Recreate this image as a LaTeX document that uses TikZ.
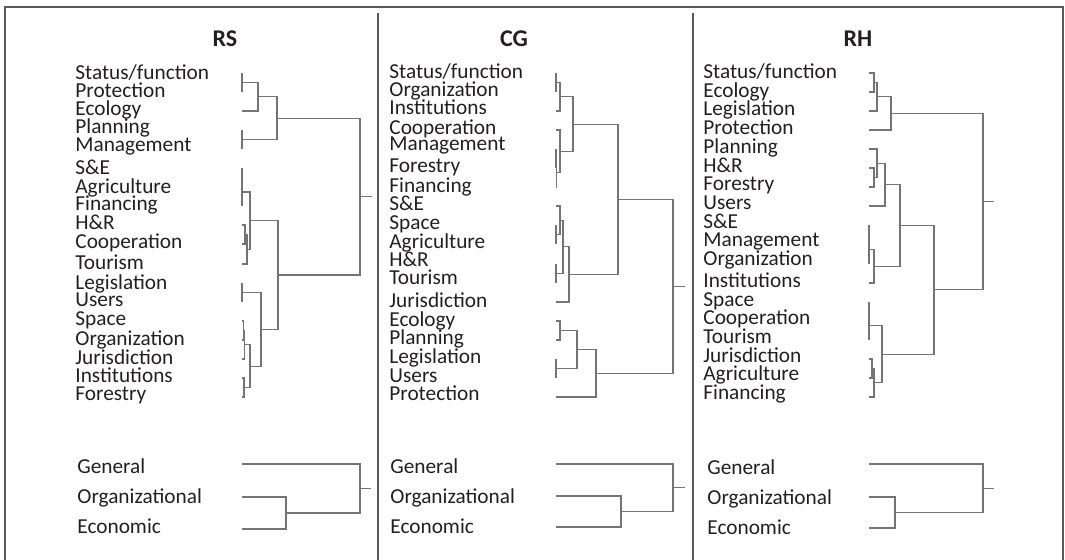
\documentclass[tikz,border=0pt]{standalone}
\usepackage{fontspec}
\setmainfont{Carlito}

\definecolor{ink}{HTML}{231F20}
\definecolor{linegray}{HTML}{747474}
\definecolor{framegray}{HTML}{5A5A5A}

\begin{document}
\begin{tikzpicture}[
    x=0.5pt, y=-0.5pt,
    heading/.style={font=\bfseries\fontsize{12}{14}\selectfont, text=ink, inner sep=0pt, text height=1.4ex, text depth=0pt},
    item/.style={anchor=west, font=\fontsize{10.65}{12}\selectfont, text=ink, inner sep=0pt, text height=1.4ex, text depth=0pt},
    link/.style={draw=linegray, line width=0.55pt},
    frame/.style={draw=framegray, line width=0.8pt}
]
\useasboundingbox (0,0) rectangle (1065,560);

% Frame
\draw[frame] (5,560) |- (1063,7) -- (1063,560);
\draw[frame] (378,13) -- (378,560);
\draw[frame] (693,13) -- (693,560);

% Headings
\node[heading] (rs_title) at (225,39.5) {RS};
\node[heading] (cg_title) at (514,39.5) {CG};
\node[heading] (rh_title) at (858,39.5) {RH};

% RS labels
\node[item] (rs_status) at (75,73) {Status/function};
\node[item] (rs_protection) at (75,91) {Protection};
\node[item] (rs_ecology) at (75,109) {Ecology};
\node[item] (rs_planning) at (75,127) {Planning};
\node[item] (rs_management) at (75,145) {Management};
\node[item] (rs_se) at (75,168) {S\&E};
\node[item] (rs_agriculture) at (75,187) {Agriculture};
\node[item] (rs_financing) at (75,204) {Financing};
\node[item] (rs_hr) at (75,223) {H\&R};
\node[item] (rs_cooperation) at (75,242) {Cooperation};
\node[item] (rs_tourism) at (75,263) {Tourism};
\node[item] (rs_legislation) at (75,283) {Legislation};
\node[item] (rs_users) at (75,300) {Users};
\node[item] (rs_space) at (75,319) {Space};
\node[item] (rs_organization) at (75,339) {Organization};
\node[item] (rs_jurisdiction) at (75,358) {Jurisdiction};
\node[item] (rs_institutions) at (75,376) {Institutions};
\node[item] (rs_forestry) at (75,394) {Forestry};

\node[item] (rs_general) at (77,467) {General};
\node[item] (rs_organizational) at (77,497) {Organizational};
\node[item] (rs_economic) at (77,527) {Economic};

% CG labels
\node[item] (cg_status) at (389,72) {Status/function};
\node[item] (cg_organization) at (389,90) {Organization};
\node[item] (cg_institutions) at (389,108) {Institutions};
\node[item] (cg_cooperation) at (389,128) {Cooperation};
\node[item] (cg_management) at (389,144) {Management};
\node[item] (cg_forestry) at (389,166) {Forestry};
\node[item] (cg_financing) at (389,186) {Financing};
\node[item] (cg_se) at (389,204) {S\&E};
\node[item] (cg_space) at (389,223) {Space};
\node[item] (cg_agriculture) at (389,242) {Agriculture};
\node[item] (cg_hr) at (389,260) {H\&R};
\node[item] (cg_tourism) at (389,278) {Tourism};
\node[item] (cg_jurisdiction) at (389,301) {Jurisdiction};
\node[item] (cg_ecology) at (389,320) {Ecology};
\node[item] (cg_planning) at (389,338) {Planning};
\node[item] (cg_legislation) at (389,357) {Legislation};
\node[item] (cg_users) at (389,376) {Users};
\node[item] (cg_protection) at (389,394) {Protection};

\node[item] (cg_general) at (390,467) {General};
\node[item] (cg_organizational) at (390,497) {Organizational};
\node[item] (cg_economic) at (390,527) {Economic};

% RH labels
\node[item] (rh_status) at (703,72) {Status/function};
\node[item] (rh_ecology) at (703,91) {Ecology};
\node[item] (rh_legislation) at (703,109) {Legislation};
\node[item] (rh_protection) at (703,128) {Protection};
\node[item] (rh_planning) at (703,147) {Planning};
\node[item] (rh_hr) at (703,166) {H\&R};
\node[item] (rh_forestry) at (703,184) {Forestry};
\node[item] (rh_users) at (703,203) {Users};
\node[item] (rh_se) at (703,222) {S\&E};
\node[item] (rh_management) at (703,240) {Management};
\node[item] (rh_organization) at (703,259) {Organization};
\node[item] (rh_institutions) at (703,281) {Institutions};
\node[item] (rh_space) at (703,300) {Space};
\node[item] (rh_cooperation) at (703,318) {Cooperation};
\node[item] (rh_tourism) at (703,337) {Tourism};
\node[item] (rh_jurisdiction) at (703,356) {Jurisdiction};
\node[item] (rh_agriculture) at (703,374) {Agriculture};
\node[item] (rh_financing) at (703,393) {Financing};

\node[item] (rh_general) at (707,468) {General};
\node[item] (rh_organizational) at (707,498) {Organizational};
\node[item] (rh_economic) at (707,528) {Economic};

% RS dendrogram
\draw[link] (242,73) -- (242,92);
\draw[link] (242,82.5) -| (258,111) -- (242,111);
\draw[link] (242,130) -- (242,149);
\draw[link] (258,96.75) -| (277,139.5) -- (242,139.5);
\draw[link] (242,168) -- (242,206);
\draw[link] (242,225) -| (245,244) -- (242,244);
\draw[link] (245,234.5) -| (247,264) -- (242,264);
\draw[link] (242,192) -| (250,249.25) -- (247,249.25);
\draw[link] (242,283) -- (242,302);
\draw[link] (242,321) -| (243.5,340) -- (242,340);
\draw[link] (243.5,330.5) -| (244.5,359) -- (242,359);
\draw[link] (242,378) -| (244,397) -- (242,397);
\draw[link] (244.5,344.75) -| (250,387.5) -- (244,387.5);
\draw[link] (242,292.5) -| (261,366.1) -- (250,366.1);
\draw[link] (250,220.6) -| (278,329.3) -- (261,329.3);
\draw[link] (277,118.1) -| (360,275) -- (278,275);
\draw[link] (360,196.5) -- (372,196.5);

\draw[link] (242,497) -| (286,529) -- (242,529);
\draw[link] (242,464) -| (360,513) -- (286,513);
\draw[link] (360,488.5) -- (371,488.5);

% CG dendrogram
\draw[link] (556,73) -- (556,92);
\draw[link] (556,82.5) -| (560,111) -- (556,111);
\draw[link] (556,149) -- (556,168);
\draw[link] (556,158.5) -| (556.5,187) -- (556,187);
\draw[link] (556,130) -| (560,172.75) -- (556.5,172.75);
\draw[link] (560,96.75) -| (573,151.4) -- (560,151.4);
\draw[link] (556,225) -- (556,244);
\draw[link] (556,206) -| (560,234.5) -- (556,234.5);
\draw[link] (556,264) -- (556,283);
\draw[link] (560,220.25) -| (563,273.5) -- (556,273.5);
\draw[link] (563,246.9) -| (569,302) -- (556,302);
\draw[link] (573,124.1) -| (618,274.4) -- (569,274.4);
\draw[link] (556,321) -| (560,340) -- (556,340);
\draw[link] (556,359) -- (556,378);
\draw[link] (560,330.5) -| (577,368.5) -- (556,368.5);
\draw[link] (577,349.5) -| (596,397) -- (556,397);
\draw[link] (618,199.25) -| (673,373.25) -- (596,373.25);
\draw[link] (673,286.25) -- (685,286.25);

\draw[link] (556,496) -| (621,527) -- (556,527);
\draw[link] (556,464) -| (673,511.5) -- (621,511.5);
\draw[link] (673,487.75) -- (685,487.75);

% RH dendrogram
\draw[link] (869,73) -| (874,92) -- (869,92);
\draw[link] (874,82.5) -| (877,111) -- (869,111);
\draw[link] (877,96.75) -| (891,130) -- (869,130);
\draw[link] (869,168) -| (874,187) -- (869,187);
\draw[link] (869,149) -| (877,177.5) -- (874,177.5);
\draw[link] (877,163.25) -| (885,206) -- (869,206);
\draw[link] (869,225) -- (869,264);
\draw[link] (869,249.25) -| (874,283) -- (869,283);
\draw[link] (885,184.6) -| (900,266.1) -- (874,266.1);
\draw[link] (869,302) -- (869,340);
\draw[link] (869,359) -| (872,378) -- (869,378);
\draw[link] (872,368.5) -| (874,397) -- (869,397);
\draw[link] (869,325.75) -| (882,382.75) -- (874,382.75);
\draw[link] (900,225.4) -| (934,354.25) -- (882,354.25);
\draw[link] (891,113.4) -| (983,289.8) -- (934,289.8);
\draw[link] (983,201.6) -- (994,201.6);

\draw[link] (869,497) -| (895,528) -- (869,528);
\draw[link] (869,464) -| (983,512.5) -- (895,512.5);
\draw[link] (983,488.25) -- (994,488.25);

\end{tikzpicture}
\end{document}
